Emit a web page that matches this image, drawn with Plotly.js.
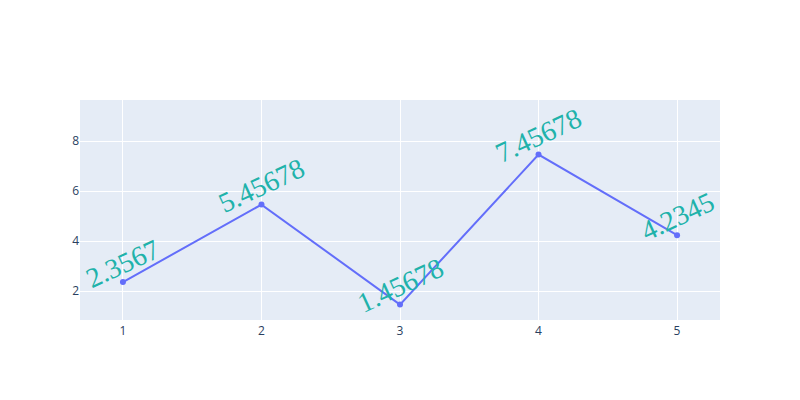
<!DOCTYPE html>
<html>
<head>
<meta charset="utf-8">
<script src="https://cdn.plot.ly/plotly-3.0.1.min.js"></script>
<style>html,body{margin:0;padding:0;}</style>
</head>
<body>
<div id="chart" style="width:800px;height:400px;"></div>
<script>
const xValues = [1, 2, 3, 4, 5];
const yValues = [2.3567, 5.45678, 1.45678, 7.45678, 4.2345];
const labels = ['2.3567', '5.45678', '1.45678', '7.45678', '4.2345'];

const trace = {
  x: xValues,
  y: yValues,
  type: 'scatter',
  mode: 'lines+markers',
  line: {color: '#636efa', width: 2},
  marker: {color: '#636efa', size: 6}
};

const annotations = xValues.map((x, i) => ({
  x: x,
  y: yValues[i],
  xref: 'x',
  yref: 'y',
  text: labels[i],
  showarrow: false,
  textangle: -25,
  yanchor: 'middle',
  yshift: 19,
  font: {family: '"Liberation Serif", "Times New Roman", serif', size: 28, color: 'lightseagreen'}
}));

const layout = {
  width: 800,
  height: 400,
  paper_bgcolor: '#ffffff',
  plot_bgcolor: '#e5ecf6',
  showlegend: false,
  margin: {l: 80, r: 80, t: 100, b: 80},
  font: {family: '"Open Sans", verdana, arial, sans-serif', size: 12, color: '#2a3f5f'},
  xaxis: {range: [0.69, 5.31], gridcolor: '#ffffff', zeroline: false, tickvals: xValues, linecolor: '#ffffff', ticks: ''},
  yaxis: {range: [0.84, 9.64], gridcolor: '#ffffff', zeroline: false, dtick: 2, ticks: ''},
  annotations: annotations
};

Plotly.newPlot('chart', [trace], layout, {displayModeBar: false});
</script>
</body>
</html>
